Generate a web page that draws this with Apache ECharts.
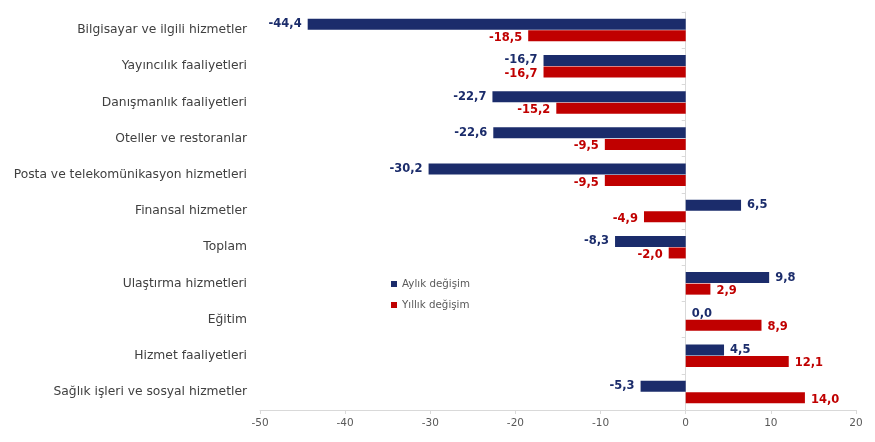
<!DOCTYPE html>
<html>
<head>
<meta charset="utf-8">
<script src="https://cdn.jsdelivr.net/npm/echarts@6/dist/echarts.min.js"></script>
<style>
  html, body { margin: 0; padding: 0; background: #fff; }
  #chart { width: 875px; height: 442px; }
</style>
</head>
<body>
<div id="chart"></div>
<script>
const categories = [
  'Bilgisayar ve ilgili hizmetler',
  'Yayıncılık faaliyetleri',
  'Danışmanlık faaliyetleri',
  'Oteller ve restoranlar',
  'Posta ve telekomünikasyon hizmetleri',
  'Finansal hizmetler',
  'Toplam',
  'Ulaştırma hizmetleri',
  'Eğitim',
  'Hizmet faaliyetleri',
  'Sağlık işleri ve sosyal hizmetler'
]
const aylik = [-44.4, -16.7, -22.7, -22.6, -30.2, 6.5, -8.3, 9.8, 0.0, 4.5, -5.3]
const yillik = [-18.5, -16.7, -15.2, -9.5, -9.5, -4.9, -2.0, 2.9, 8.9, 12.1, 14.0]
const seriesNames = ['Aylık değişim', 'Yıllık değişim']

const BLUE = '#1b2c6b'
const RED = '#c00000'
const FONT = 'DejaVu Sans'

const fmt = v => v.toFixed(1).replace('.', ',')

// label goes at the outer end of each bar
const toItems = (values, color, dy) => values.map(v => ({
  value: v,
  label: {
    position: v < 0 ? 'left' : 'right',
    color: color,
    offset: [0, dy]
  }
}))

const chart = echarts.init(document.getElementById('chart'))

const barLabel = {
  show: true,
  fontSize: 11.5,
  fontWeight: 'bold',
  fontFamily: FONT,
  distance: 6,
  formatter: p => fmt(p.value)
}

const option = {
  animation: false,
  textStyle: { fontFamily: FONT },
  legend: {
    orient: 'vertical',
    left: 386,
    top: 274,
    icon: 'rect',
    itemWidth: 6,
    itemHeight: 6,
    itemGap: 11,
    data: seriesNames,
    textStyle: { color: '#595959', fontSize: 10.3, fontFamily: FONT }
  },
  grid: {
    left: 260,
    right: 19,
    top: 12,
    bottom: 32
  },
  xAxis: {
    type: 'value',
    min: -50,
    max: 20,
    interval: 10,
    axisLine: { show: true, lineStyle: { color: '#d9d9d9' } },
    axisTick: { show: true, length: 4, lineStyle: { color: '#d9d9d9' } },
    axisLabel: { color: '#595959', fontSize: 10.5, margin: 8 },
    splitLine: { show: false }
  },
  yAxis: [
    {
      type: 'category',
      data: categories,
      inverse: true,
      axisLine: { show: false, onZero: false },
      axisTick: { show: false },
      axisLabel: { color: '#404040', fontSize: 12.3, margin: 13 }
    },
    {
      type: 'category',
      data: categories,
      inverse: true,
      position: 'left',
      axisLine: { show: true, onZero: true, lineStyle: { color: '#d9d9d9' } },
      axisTick: { show: true, length: 4, lineStyle: { color: '#d9d9d9' } },
      axisLabel: { show: false },
      splitLine: { show: false }
    }
  ],
  series: [
    {
      name: seriesNames[0],
      type: 'bar',
      data: toItems(aylik, BLUE, 0),
      barWidth: 11,
      barGap: '5%',
      itemStyle: { color: BLUE },
      label: barLabel
    },
    {
      name: seriesNames[1],
      type: 'bar',
      data: toItems(yillik, RED, 2),
      barWidth: 11,
      barGap: '5%',
      itemStyle: { color: RED },
      label: barLabel
    }
  ]
}

chart.setOption(option)
</script>
</body>
</html>
